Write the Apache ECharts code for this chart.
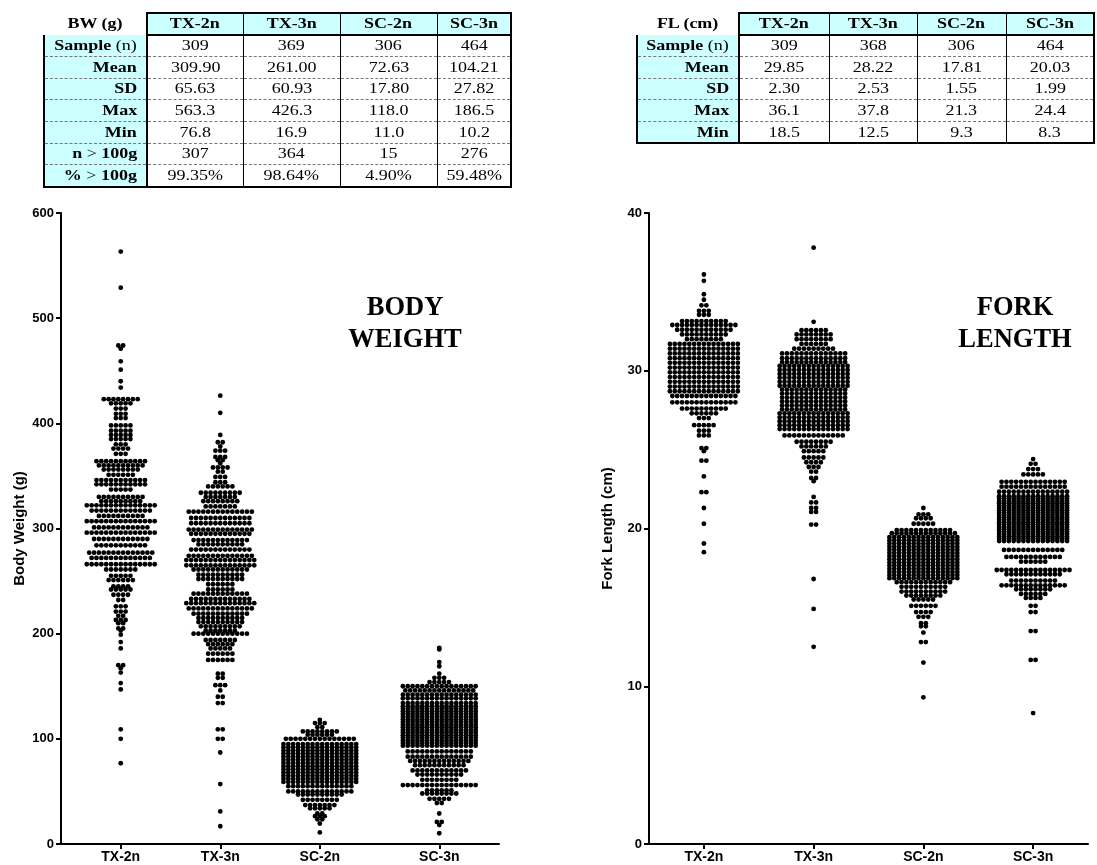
<!DOCTYPE html>
<html><head><meta charset="utf-8">
<script src="https://cdn.jsdelivr.net/npm/echarts@6.0.0/dist/echarts.min.js"></script>
<style>
html,body{margin:0;padding:0;background:#fff;}
#chart{position:absolute;left:0;top:0;width:1097px;height:865px;}
table.st{position:absolute;border-collapse:collapse;table-layout:fixed;font-family:"Liberation Serif","Times New Roman",serif;font-size:15px;color:#000;z-index:2;}
.st td{height:21.7px;padding:0;box-sizing:border-box;text-align:center;white-space:nowrap;line-height:1;vertical-align:middle;}
.st td.corner{font-weight:bold;border:none;}
.st td.h{background:#ccffff;font-weight:bold;border-top:2px solid #000;border-bottom:2px solid #000;border-left:1px solid #000;border-right:1px solid #000;}
.st td.h.first{border-left:2px solid #000;}
.st td.h.last{border-right:2px solid #000;}
.st td.lab{background:#ccffff;text-align:right;padding-right:9px;border-left:2px solid #000;border-right:2px solid #000;border-bottom:1px dashed #777;}
.st td.v{border-right:1px solid #000;border-bottom:1px dashed #777;}
.st td.v.last{border-right:2px solid #000;}
.st tr.lastrow td{border-bottom:2px solid #000;}
.s{display:inline-block;transform:scaleX(1.2);transform-origin:center center;}
.lab .s{transform-origin:right center;}
</style></head><body>
<div id="chart"></div>
<script>
// ---------- table data ----------
const groups = ['TX-2n','TX-3n','SC-2n','SC-3n'];
const bwTitle = 'BW (g)';
const flTitle = 'FL (cm)';
const bwLabels = ['<b>Sample</b> (n)','<b>Mean</b>','<b>SD</b>','<b>Max</b>','<b>Min</b>','<b>n</b> &gt; <b>100g</b>','<b>%</b> &gt; <b>100g</b>'];
const bwSample = ['309','369','306','464'];
const bwMean = ['309.90','261.00','72.63','104.21'];
const bwSD = ['65.63','60.93','17.80','27.82'];
const bwMax = ['563.3','426.3','118.0','186.5'];
const bwMin = ['76.8','16.9','11.0','10.2'];
const bwOver = ['307','364','15','276'];
const bwPct = ['99.35%','98.64%','4.90%','59.48%'];
const flLabels = ['<b>Sample</b> (n)','<b>Mean</b>','<b>SD</b>','<b>Max</b>','<b>Min</b>'];
const flSample = ['309','368','306','464'];
const flMean = ['29.85','28.22','17.81','20.03'];
const flSD = ['2.30','2.53','1.55','1.99'];
const flMax = ['36.1','37.8','21.3','24.4'];
const flMin = ['18.5','12.5','9.3','8.3'];

// ---------- swarm data: [value, number of dots at that level] ----------
const bwTX2n = [[563.3,1],[529,1],[474,2],[471,1],[459,1],[451,1],[440,1],[434,1],
 [423,8],[419,5],[414,3],[409,3],[405,3],[398,5],[393,5],[389,5],[385,5],[380,3],[376,4],[371,3],
 [364,11],[360,10],[356,8],[351,6],[346,11],[342,11],[337,5],[330,10],[326,9],[322,15],[317,13],[312,10],
 [307,15],[301,12],[296,15],[290,12],[284,11],[277,14],[272,13],[266,15],
 [261,7],[255,5],[251,6],[245,4],[242,5],[237,4],[232,2],[226,3],[221,3],[217,2],[213,3],[210,2],[205,2],
 [203,1],[199,1],[192,1],[186,1],[170,2],[167,1],[163,1],[153,1],[147,1],[109,1],[100,1],[76.8,1]];
const bwTX3n = [[426.3,1],[410,1],[389,1],[382,2],[378,1],[374,3],[368,3],[365,2],[362,1],[358,4],[354,2],[349,3],[344,3],
 [340,6],[334,9],[330,7],[326,8],[321,7],[316,14],[310,13],[305,13],[299,14],[295,13],[289,12],[285,10],[280,13],
 [274,14],[270,15],[265,15],[261,12],[256,10],[252,10],[247,6],[242,6],[238,12],[233,13],[229,15],[224,14],
 [219,12],[215,10],[211,10],[207,9],[203,7],[200,12],[194,7],[190,6],[186,5],[181,6],[175,6],
 [162,2],[158,2],[151,3],[146,1],[140,2],[134,2],[109,2],[100,2],[87,1],[57,1],[31,1],[16.9,1]];
const bwSC2n = [[118,1],[115,3],[111,2],[107,8],[104,6],[100,15],[95,16],[92,16],[89,16],[86,16],[83,16],[80,16],
 [77,16],[74,16],[71,16],[68,16],[65,16],[62,16],[59,16],[55,14],[50,14],[47,10],[42,8],[37,7],[34,5],
 [29,2],[26.5,3],[23.5,2],[19.5,1],[11,1]];
const bwSC3n = [[186.5,1],[185,1],[173,1],[169,1],[162,1],[158,3],[154,5],[150,16],[146,15],[142,16],[138.5,16],[134,16],
 [131,16],[128.5,16],[126,16],[123.5,16],[121,16],[118.5,16],[116,16],[113.5,16],[111,16],[108.5,16],[106,16],
 [103.5,16],[101,16],[98.5,16],[96,16],[93.5,16],
 [88,14],[83,14],[79,13],[75,11],[70,12],[66,10],[61,8],[56,16],[51,6],[48,8],[43,5],[39,2],
 [29,1],[21,2],[18,1],[10.2,1]];

const flTX2n = [[36.1,1],[35.7,1],[34.85,1],[34.5,1],[34.15,2],[33.8,3],[33.55,3],[33.15,10],[32.9,14],[32.6,12],[32.3,10],[32.0,8],
 [31.7,15],[31.4,15],[31.1,15],[30.8,15],[30.5,15],[30.2,15],[29.9,15],[29.6,15],[29.3,15],[29.0,15],[28.7,15],
 [28.4,14],[28.0,14],[27.6,10],[27.3,6],[27.0,3],[26.55,5],[26.2,3],[25.9,3],[25.1,2],[24.9,1],[24.3,2],
 [23.3,1],[22.3,2],[21.3,1],[20.3,1],[19.05,1],[18.5,1]];
const flTX3n = [[37.8,1],[33.1,1],[32.57,6],[32.3,8],[32.0,8],[31.7,6],[31.4,9],[31.1,14],
 [30.8,14],[30.55,14],[30.3,15],[30.05,15],[29.8,15],[29.55,15],[29.3,15],[29.05,15],[28.8,14],[28.55,14],
 [28.3,14],[28.05,14],[27.8,14],[27.55,14],[27.3,15],[27.05,15],[26.8,15],[26.55,15],[26.3,15],
 [25.9,13],[25.5,8],[25.2,6],[24.9,5],[24.5,5],[24.2,4],[23.9,3],[23.6,2],[23.2,2],[23.0,1],
 [22.0,1],[21.65,2],[21.3,2],[21.05,2],[20.25,2],[16.8,1],[14.9,1],[12.5,1]];
const flSC2n = [[21.3,1],[20.9,3],[20.65,4],[20.3,5],[19.9,12],[19.7,14],
 [19.45,15],[19.25,15],[19.05,15],[18.85,15],[18.65,15],[18.45,15],[18.25,15],[18.05,15],[17.85,15],[17.65,15],
 [17.45,15],[17.25,15],[17.05,15],[16.85,15],
 [16.6,12],[16.3,10],[16.0,10],[15.75,8],[15.5,5],[15.1,6],[14.7,4],[14.4,3],[14.0,2],[13.8,2],[13.4,1],[12.8,2],[11.5,1],[9.3,1]];
const flSC3n = [[24.4,1],[24.1,2],[23.77,3],[23.43,5],[22.96,14],[22.65,14],[22.33,15],
 [22.05,15],[21.9,15],[21.75,15],[21.6,15],[21.45,15],[21.3,15],[21.15,15],[21.0,15],[20.85,15],[20.7,15],
 [20.55,15],[20.4,15],[20.25,15],[20.1,15],[19.95,15],[19.8,15],[19.65,15],[19.5,15],[19.35,15],[19.2,15],
 [18.64,13],[18.2,12],[17.9,6],[17.37,16],[17.1,12],[16.7,10],[16.4,14],[16.15,8],[15.85,6],[15.6,4],
 [15.1,2],[14.7,2],[13.5,2],[11.67,2],[8.3,1]];

const bwTicks = [0,100,200,300,400,500,600];
const flTicks = [0,10,20,30,40];

// ---------- layout (positions / styles) ----------
const bwPos = [3,8,13,19];          // group centres on a 0..22 axis
const flPos = [0.5,1.5,2.5,3.5];    // group centres on a 0..4 axis
const SP = 4.85, R = 2.4;

function buildTable(left, top, title, labels, rows, colW) {
  const t = document.createElement('table');
  t.className = 'st';
  t.style.left = left + 'px'; t.style.top = top + 'px';
  t.style.width = colW.reduce((a,b)=>a+b,0) + 'px';
  let h = '<colgroup>' + colW.map(w=>'<col style="width:'+w+'px">').join('') + '</colgroup>';
  h += '<tr><td class="corner"><span class="s">' + title + '</span></td>';
  groups.forEach((g,i)=>{ h += '<td class="h' + (i===0?' first':'') + (i===groups.length-1?' last':'') + '"><span class="s">' + g + '</span></td>'; });
  h += '</tr>';
  rows.forEach((r,ri)=>{
    h += '<tr' + (ri===rows.length-1?' class="lastrow"':'') + '><td class="lab"><span class="s">' + labels[ri] + '</span></td>';
    r.forEach((v,i)=>{ h += '<td class="v' + (i===r.length-1?' last':'') + '"><span class="s">' + v + '</span></td>'; });
    h += '</tr>';
  });
  t.innerHTML = h;
  document.body.appendChild(t);
}
buildTable(43, 12, bwTitle, bwLabels, [bwSample,bwMean,bwSD,bwMax,bwMin,bwOver,bwPct], [103,96,97,97,74]);
buildTable(636, 12, flTitle, flLabels, [flSample,flMean,flSD,flMax,flMin], [102,90,88,89,88]);

function swarm(rows, centre) {
  const out = [];
  rows.forEach(([v,n]) => { for (let i=0;i<n;i++) out.push([centre, v, i-(n-1)/2]); });
  return out;
}
function renderDot(params, api) {
  const p = api.coord([api.value(0), api.value(1)]);
  return {type:'circle', shape:{cx:p[0] + api.value(2)*SP, cy:p[1], r:R}, style:{fill:'#000'}};
}
const axisFont = {fontFamily:'"Liberation Sans", Arial, sans-serif', fontWeight:'bold', color:'#000'};

const bwSets = [bwTX2n,bwTX3n,bwSC2n,bwSC3n];
const flSets = [flTX2n,flTX3n,flSC2n,flSC3n];

const series = [];
bwSets.forEach((rows,i)=>{
  const s = {type:'custom', xAxisIndex:0, yAxisIndex:0, renderItem:renderDot, data:swarm(rows,bwPos[i]), silent:true, clip:false};
  if (i===0) s.markLine = {silent:true, symbol:'none', label:{show:false}, animation:false,
      lineStyle:{color:'#000', width:2.5, type:[2,2.6]}, data:[[{coord:[0,100]},{coord:[22.45,100]}]]};
  series.push(s);
});
flSets.forEach((rows,i)=>{
  series.push({type:'custom', xAxisIndex:1, yAxisIndex:1, renderItem:renderDot, data:swarm(rows,flPos[i]), silent:true, clip:false});
});

const chart = echarts.init(document.getElementById('chart'), null, {renderer:'canvas'});
chart.setOption({
  animation:false,
  backgroundColor:'#fff',
  grid:[{left:61, top:213, width:438, height:631}, {left:649, top:213, width:439, height:631}],
  xAxis:[
    {gridIndex:0, type:'value', min:0, max:22, splitLine:{show:false},
     axisLine:{lineStyle:{color:'#000', width:2}},
     axisTick:{customValues:bwPos, length:5, lineStyle:{color:'#000', width:2}},
     axisLabel:Object.assign({customValues:bwPos, fontSize:14, margin:6, formatter:v=>groups[bwPos.indexOf(v)]}, axisFont)},
    {gridIndex:1, type:'value', min:0, max:4, splitLine:{show:false},
     axisLine:{lineStyle:{color:'#000', width:2}},
     axisTick:{customValues:flPos, length:5, lineStyle:{color:'#000', width:2}},
     axisLabel:Object.assign({customValues:flPos, fontSize:14, margin:6, formatter:v=>groups[flPos.indexOf(v)]}, axisFont)}
  ],
  yAxis:[
    {gridIndex:0, type:'value', min:bwTicks[0], max:bwTicks[bwTicks.length-1], interval:100, splitLine:{show:false},
     name:'Body Weight (g)', nameLocation:'middle', nameGap:34,
     nameTextStyle:Object.assign({fontSize:15}, axisFont),
     axisLine:{show:true, lineStyle:{color:'#000', width:2}},
     axisTick:{show:true, length:5, lineStyle:{color:'#000', width:2}},
     axisLabel:Object.assign({fontSize:13, margin:7}, axisFont)},
    {gridIndex:1, type:'value', min:flTicks[0], max:flTicks[flTicks.length-1], interval:10, splitLine:{show:false},
     name:'Fork Length (cm)', nameLocation:'middle', nameGap:34,
     nameTextStyle:Object.assign({fontSize:15}, axisFont),
     axisLine:{show:true, lineStyle:{color:'#000', width:2}},
     axisTick:{show:true, length:5, lineStyle:{color:'#000', width:2}},
     axisLabel:Object.assign({fontSize:13, margin:7}, axisFont)}
  ],
  graphic:[
    {type:'text', x:405, y:292, style:{text:'BODY\nWEIGHT', align:'center', verticalAlign:'top', fontSize:26.5, lineHeight:32, fontWeight:'bold', fontFamily:'"Liberation Serif","Times New Roman",serif', fill:'#000'}},
    {type:'text', x:1015, y:292, style:{text:'FORK\nLENGTH', align:'center', verticalAlign:'top', fontSize:26.5, lineHeight:32, fontWeight:'bold', fontFamily:'"Liberation Serif","Times New Roman",serif', fill:'#000'}}
  ],
  series:series
});
</script>
</body></html>
